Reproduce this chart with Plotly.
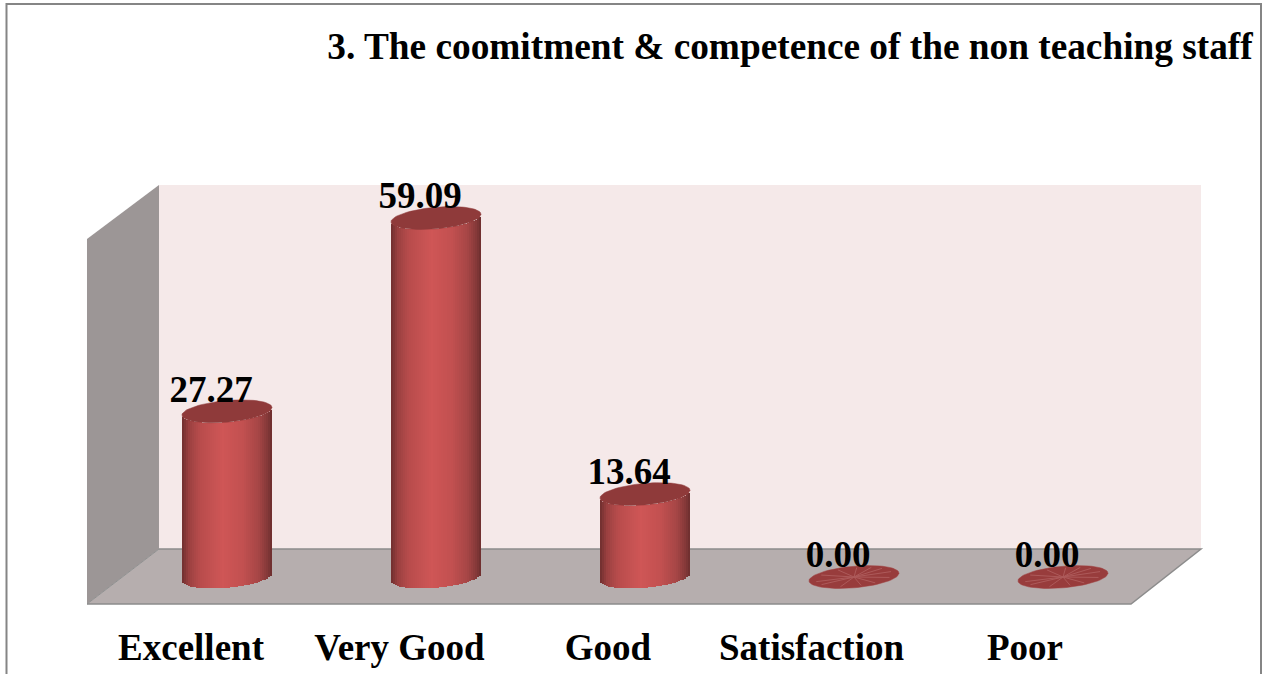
import plotly.graph_objects as go
import math

# ---- data ----
categories = ["Excellent", "Very Good", "Good", "Satisfaction", "Poor"]
values = [27.27, 59.09, 13.64, 0.00, 0.00]
value_labels = ["27.27", "59.09", "13.64", "0.00", "0.00"]
title_text = "<b>3. The coomitment &amp; competence of the non teaching staff</b>"
positions = list(range(len(categories)))

# ---- canvas / scale ----
W, H = 1266, 674
PLOT_BOTTOM = 622
PX_X = 209.0            # pixels per category step
PX_Y = 6.075            # pixels per value unit
X0_PX, Y0_PX = 227.0, 577.0   # pixel position of first category, value 0
x_range = [(0 - X0_PX) / PX_X, (W - X0_PX) / PX_X]
y_range = [(Y0_PX - PLOT_BOTTOM) / PX_Y, Y0_PX / PX_Y]
tick_shift_px = [-36, -36.5, -37, -42.5, -38]


def dx(px):
    return (px - X0_PX) / PX_X


def dy(py):
    return (Y0_PX - py) / PX_Y


def poly(points):
    return "M " + " L ".join(f"{dx(a):.4f},{dy(b):.4f}" for a, b in points) + " Z"


# ---- cylinder geometry ----
HALF_W = 45 / PX_X
TILT = 3.8 / PX_Y
MINOR = 10.8 / PX_Y
N_STRIPS = 45
shade_stops = [(-1.0, (0x6e, 0x2e, 0x2e)), (-0.85, (0x9a, 0x40, 0x40)), (-0.6, (0xb8, 0x4c, 0x4c)),
               (-0.1, (0xcf, 0x56, 0x56)), (0.35, (0xc2, 0x50, 0x50)), (0.7, (0xa6, 0x46, 0x46)),
               (0.9, (0x84, 0x38, 0x38)), (1.0, (0x6c, 0x2e, 0x2e))]


def shade(u):
    for (a, ca), (b, cb) in zip(shade_stops, shade_stops[1:]):
        if a <= u <= b:
            f = (u - a) / (b - a)
            return "rgb(%d,%d,%d)" % tuple(round(p + (q - p) * f) for p, q in zip(ca, cb))
    return "rgb(110,46,46)"


fig = go.Figure()

for s in range(N_STRIPS):
    u0 = -1 + 2 * s / N_STRIPS
    u1 = -1 + 2 * (s + 1) / N_STRIPS
    um = (u0 + u1) / 2
    drop = MINOR * math.sqrt(max(0.0, 1 - um * um)) - TILT * um
    fig.add_trace(go.Bar(
        x=positions, y=values,
        base=[-drop] * len(values),
        offset=u0 * HALF_W,
        width=(u1 - u0) * HALF_W + 0.4 / PX_X,
        marker=dict(color=shade(um), line=dict(width=0)),
        showlegend=False, hoverinfo="skip",
    ))

ANGLES = [2 * math.pi * k / 72 for k in range(73)]
for pos, val in zip(positions, values):
    fig.add_trace(go.Scatter(
        x=[pos + HALF_W * math.cos(t) for t in ANGLES],
        y=[val + TILT * math.cos(t) + MINOR * math.sin(t) for t in ANGLES],
        mode="lines", fill="toself",
        fillcolor="#8f3a3a" if val > 0 else "#983c3c",
        line=dict(width=0.5, color="#8f3a3a" if val > 0 else "#a03e3e"),
        showlegend=False, hoverinfo="skip",
    ))
    if val == 0:
        for t in [0.25, 0.75, 1.1, 1.5, 2.0, 2.6, 3.3, 3.7, 4.35, 4.9, 5.3, 5.9]:
            fig.add_trace(go.Scatter(
                x=[pos, pos + 0.85 * HALF_W * math.cos(t)],
                y=[val, val + 0.85 * (TILT * math.cos(t) + MINOR * math.sin(t))],
                mode="lines", line=dict(width=1, color="#ad5a5a"),
                showlegend=False, hoverinfo="skip",
            ))

fig.add_trace(go.Scatter(
    x=[p - 16 / PX_X for p in positions],
    y=[v + 19 / PX_Y for v in values],
    text=[f"<b>{t}</b>" for t in value_labels],
    mode="text", textposition="middle center",
    textfont=dict(family="Liberation Serif", size=37, color="#000000"),
    showlegend=False, hoverinfo="skip", cliponaxis=False,
))

# ---- walls, floor, frame ----
shapes = [
    dict(type="path", path=poly([(159, 185), (1201, 185), (1201, 549), (159, 549)]),
         fillcolor="#f5e9e9", line=dict(width=0), xref="x", yref="y", layer="below"),
    dict(type="path", path=poly([(87, 239), (159, 185), (159, 549), (87, 604)]),
         fillcolor="#9c9696", line=dict(width=0), xref="x", yref="y", layer="below"),
    dict(type="path", path=poly([(87, 604), (159, 549), (1201, 549), (1131, 604)]),
         fillcolor="#b6aeae", line=dict(width=0), xref="x", yref="y", layer="below"),
    dict(type="path", path="M %.4f,%.4f L %.4f,%.4f L %.4f,%.4f L %.4f,%.4f" % (
        dx(159), dy(549), dx(1201), dy(549), dx(1131), dy(604), dx(87), dy(604)),
         line=dict(width=1.5, color="#8c8c8c"), xref="x", yref="y", layer="below"),
    dict(type="line", x0=dx(87), y0=dy(604), x1=dx(159), y1=dy(549),
         line=dict(width=1, color="#8f9090"), xref="x", yref="y", layer="below"),
]
frame_y = lambda py: (PLOT_BOTTOM - py) / PLOT_BOTTOM
shapes.append(dict(
    type="path", xref="paper", yref="paper",
    path="M %.5f,%.5f L %.5f,%.5f L %.5f,%.5f L %.5f,%.5f" % (
        6.5 / W, frame_y(680), 6.5 / W, frame_y(4), 1261 / W, frame_y(4), 1261 / W, frame_y(680)),
    line=dict(width=2, color="#858585"), layer="below",
))

fig.update_layout(
    width=W, height=H,
    margin=dict(l=0, r=0, t=0, b=H - PLOT_BOTTOM, pad=0),
    paper_bgcolor="#ffffff", plot_bgcolor="rgba(0,0,0,0)",
    barmode="overlay", bargap=0,
    hovermode=False, showlegend=False,
    title=dict(
        text=title_text, x=790 / W, xanchor="center", xref="paper",
        y=1 - 46 / H, yanchor="middle", yref="container",
        font=dict(family="Liberation Serif", size=37.3, color="#000000"),
    ),
    shapes=shapes,
    xaxis=dict(
        range=x_range, tickmode="array",
        tickvals=[p + s / PX_X for p, s in zip(positions, tick_shift_px)],
        ticktext=[f"<b>{c}</b>" for c in categories],
        tickfont=dict(family="Liberation Serif", size=37, color="#000000"),
        showgrid=False, zeroline=False, showline=False, ticks="", fixedrange=True,
    ),
    yaxis=dict(range=y_range, visible=False, showgrid=False, zeroline=False, fixedrange=True),
)

fig.write_html(
    "out.html",
    config=dict(displayModeBar=False, responsive=False),
    post_script="document.body.style.margin='0';document.body.style.overflow='hidden';",
)
